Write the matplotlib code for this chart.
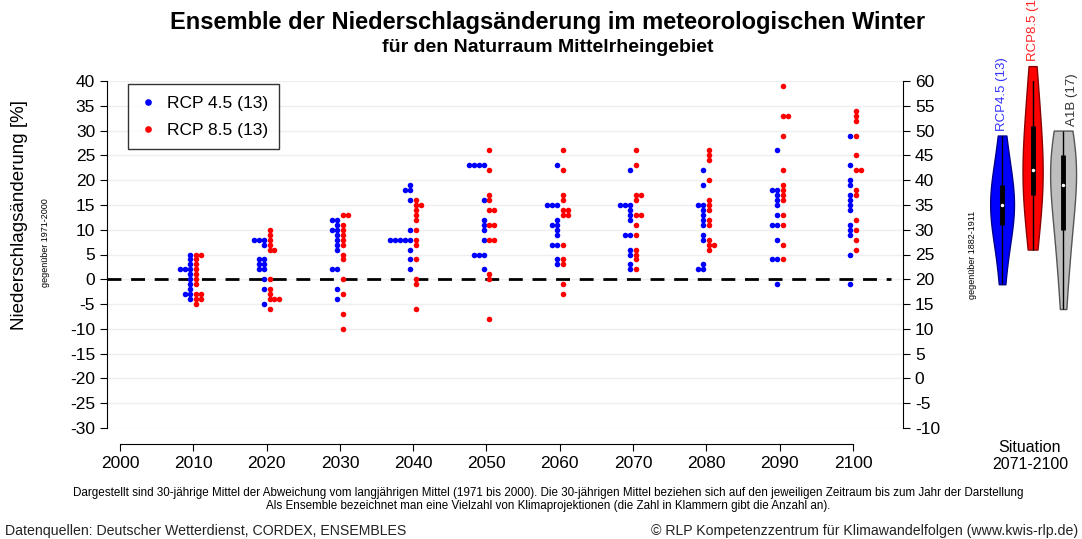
import numpy as np
import matplotlib.pyplot as plt

plt.rcParams['font.family'] = ['Liberation Sans', 'DejaVu Sans']
plt.rcParams['axes.unicode_minus'] = False

# Werte (Änderung in % gegenüber 1971-2000)
jahre = [2010, 2020, 2030, 2040, 2050, 2060, 2070, 2080, 2090, 2100]
rcp45 = [
    [5, 4, 3, 2, 2, 2, 1, 0, -1, -2, -3, -3, -4],
    [8, 8, 8, 7, 4, 4, 3, 3, 2, 2, 0, -2, -5],
    [12, 12, 11, 10, 10, 9, 8, 7, 6, 2, 2, -2, -4],
    [19, 18, 18, 16, 10, 8, 8, 8, 8, 8, 6, 4, 2],
    [23, 23, 23, 23, 16, 12, 11, 10, 8, 5, 5, 5, 2],
    [23, 15, 15, 15, 12, 11, 11, 10, 9, 7, 7, 4, 3],
    [22, 15, 15, 15, 14, 13, 12, 9, 9, 6, 5, 3, 2],
    [22, 19, 15, 15, 14, 13, 12, 11, 9, 8, 3, 2, 2],
    [26, 18, 18, 17, 16, 15, 13, 11, 11, 8, 4, 4, -1],
    [29, 23, 20, 19, 17, 16, 15, 14, 11, 10, 9, 5, -1],
]
rcp85 = [
    [5, 5, 4, 3, 2, 1, 0, -1, -3, -3, -4, -4, -5],
    [10, 9, 8, 7, 6, 6, 0, -2, -3, -4, -4, -4, -6],
    [13, 13, 11, 10, 9, 8, 7, 5, 4, 0, -3, -7, -10],
    [16, 15, 15, 14, 13, 12, 10, 8, 7, 4, 0, -1, -6],
    [26, 22, 17, 16, 14, 14, 11, 11, 8, 8, 1, 0, -8],
    [26, 22, 17, 16, 14, 14, 13, 13, 7, 4, 3, -1, -3],
    [26, 23, 17, 17, 16, 13, 13, 11, 9, 6, 5, 4, 2],
    [26, 25, 24, 20, 16, 15, 14, 12, 11, 8, 7, 7, 6],
    [39, 33, 33, 29, 22, 19, 18, 17, 16, 13, 11, 7, 4],
    [34, 33, 32, 29, 25, 22, 22, 18, 17, 12, 10, 8, 6],
]

# Situation 2071-2100 (gegenüber 1882-1911)
violin_namen = ['RCP4.5 (13)', 'RCP8.5 (13)', 'A1B (17)']
violin_rcp45 = [19, 25, 29, 31, 33, 34, 35, 36, 37, 39, 41, 45, 49]
violin_rcp85 = [26, 30, 34, 37, 39, 41, 42, 44, 47, 51, 54, 58, 63]
violin_a1b = [14, 20, 25, 28, 30, 33, 36, 38, 39, 41, 43, 44, 45, 46, 47, 48, 50]

W, H = 1082, 539
fig = plt.figure(figsize=(W / 100, H / 100), dpi=100)


def fx(px):
    return px / W


def fy(py):
    return 1 - py / H


def swarm(dekade, werte, seite):
    # gleiche Werte nebeneinander legen
    xs = []
    gezaehlt = {}
    for v in werte:
        k = gezaehlt.get(v, 0)
        gezaehlt[v] = k + 1
        xs.append(dekade + seite * (0.4 + k * 0.68))
    return xs


ax = fig.add_axes([fx(107), fy(428), fx(903) - fx(107), fy(81) - fy(428)])
ax.set_xlim(1998.23, 2106.82)
ax.set_ylim(-30, 40)

ax.yaxis.grid(True, color='#efefef', lw=1)
ax.set_axisbelow(True)
ax.axhline(0, xmax=0.985, color='black', lw=2, ls=(0, (5, 3.5)), zorder=1)

for i, j in enumerate(jahre):
    lb = 'RCP 4.5 (13)' if i == 0 else None
    lr = 'RCP 8.5 (13)' if i == 0 else None
    ax.plot(swarm(j, rcp45[i], -1), rcp45[i], 'o', color='#0000ff', ms=4, mew=0, label=lb, zorder=3)
    ax.plot(swarm(j, rcp85[i], 1), rcp85[i], 'o', color='#ff0000', ms=4, mew=0, label=lr, zorder=3)

ax.spines['top'].set_visible(False)
ax.spines['right'].set_visible(False)
ax.spines['left'].set_bounds(-30, 40)
ax.spines['bottom'].set_position(('outward', 11.5))
ax.spines['bottom'].set_bounds(2000, 2100)
ax.set_xticks(range(2000, 2101, 10))
ax.set_yticks(range(-30, 41, 5))
ax.tick_params(labelsize=12.5, length=5, direction='out')

ax2 = ax.twinx()
ax2.set_ylim(-10, 60)
ax2.set_yticks(range(-10, 61, 5))
ax2.spines['top'].set_visible(False)
ax2.spines['left'].set_visible(False)
ax2.spines['bottom'].set_visible(False)
ax2.spines['right'].set_bounds(-10, 60)
ax2.tick_params(labelsize=12.5, length=5, direction='out')

leg = ax.legend(loc='upper left', bbox_to_anchor=(0.026, 0.99), fontsize=12.5,
                frameon=True, fancybox=False, edgecolor='black', markerscale=1.2,
                handlelength=1.0, handletextpad=0.6, labelspacing=0.7, borderpad=0.65,
                borderaxespad=0)
leg.get_frame().set_linewidth(1)

# Violinen rechts
axv = fig.add_axes([fx(985), fy(428), fx(1082) - fx(985), fy(81) - fy(428)])
axv.set_ylim(-10, 60)
axv.set_xlim(0.44, 3.62)
axv.axis('off')

violin_daten = [violin_rcp45, violin_rcp85, violin_a1b]
farben = ['#0000ff', '#ff0000', '#bebebe']
kanten = ['#00008b', '#8b0000', '#555555']
textfarben = ['#3333ff', '#ff2222', '#333333']
breiten = [0.78, 0.66, 0.85]
for p, (d, fc, ec, tc, w, name) in enumerate(zip(violin_daten, farben, kanten, textfarben, breiten, violin_namen), start=1):
    teile = axv.violinplot([d], positions=[p], widths=[w], showextrema=False, bw_method=0.8)
    for b in teile['bodies']:
        b.set_facecolor(fc)
        b.set_edgecolor(ec)
        b.set_alpha(1)
        b.set_linewidth(1)
        b.set_clip_on(False)
    q1, med, q3 = np.percentile(d, [25, 50, 75])
    iqr = q3 - q1
    lo = min(x for x in d if x >= q1 - 1.5 * iqr)
    hi = max(x for x in d if x <= q3 + 1.5 * iqr)
    axv.vlines(p, lo, hi, color='black', lw=1)
    axv.vlines(p, q1, q3, color='black', lw=3.5)
    axv.plot(p, med, 'o', color='white', ms=2.5, mew=0)
    tx = p + (0.3 if p == 3 else 0)
    axv.text(tx, max(d) + 1, name, rotation=90, ha='center', va='bottom',
             color=tc, fontsize=9.5, clip_on=False)

# Texte
fig.text(fx(548), fy(22), 'Ensemble der Niederschlagsänderung im meteorologischen Winter',
         ha='center', va='center', fontsize=17, fontweight='bold')
fig.text(fx(548), fy(48), 'für den Naturraum Mittelrheingebiet',
         ha='center', va='center', fontsize=14, fontweight='bold')
fig.text(fx(20), fy(215), 'Niederschlagsänderung [%]', rotation=90,
         ha='center', va='center', fontsize=13.5)
fig.text(fx(45), fy(243), 'gegenüber 1971-2000', rotation=90,
         ha='center', va='center', fontsize=6.5)
fig.text(fx(973), fy(255), 'gegenüber 1882-1911', rotation=90,
         ha='center', va='center', fontsize=6.5)
fig.text(fx(1030), fy(456), 'Situation\n2071-2100', ha='center', va='center',
         fontsize=11.5, linespacing=1.2)
fig.text(fx(548), fy(493), 'Dargestellt sind 30-jährige Mittel der Abweichung vom langjährigen Mittel (1971 bis 2000). '
         'Die 30-jährigen Mittel beziehen sich auf den jeweiligen Zeitraum bis zum Jahr der Darstellung',
         ha='center', va='center', fontsize=8.4)
fig.text(fx(548), fy(506), 'Als Ensemble bezeichnet man eine Vielzahl von Klimaprojektionen '
         '(die Zahl in Klammern gibt die Anzahl an).', ha='center', va='center', fontsize=8.4)
fig.text(fx(5), fy(531), 'Datenquellen: Deutscher Wetterdienst, CORDEX, ENSEMBLES',
         ha='left', va='center', fontsize=10.2, color='#222222')
fig.text(fx(1078), fy(531), '© RLP Kompetenzzentrum für Klimawandelfolgen (www.kwis-rlp.de)',
         ha='right', va='center', fontsize=10.2, color='#222222')

fig.savefig('out.png', dpi=100)
